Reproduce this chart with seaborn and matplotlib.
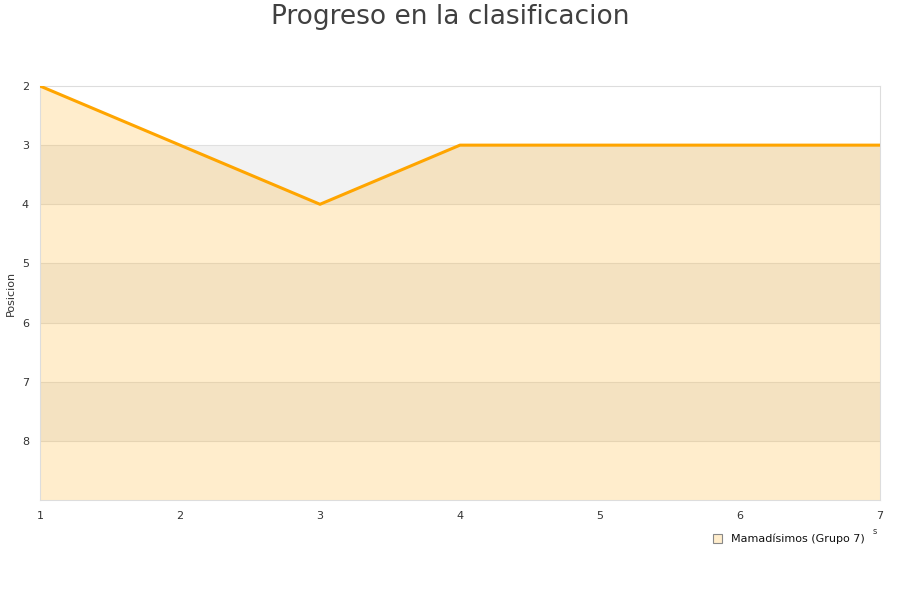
import matplotlib
matplotlib.use("Agg")
import matplotlib.pyplot as plt
import seaborn as sns
import pandas as pd
from matplotlib.patches import Patch

# datos
jornadas = [1, 2, 3, 4, 5, 6, 7]
posicion = [2, 3, 4, 3, 3, 3, 3]
equipo = "Mamadísimos (Grupo 7)"
titulo = "Progreso en la clasificacion"

df = pd.DataFrame({"jornada": jornadas, "posicion": posicion})

sns.set_style("white")
plt.rcParams['font.family'] = ['DejaVu Sans']

fig = plt.figure(figsize=(9, 6), dpi=100)
ax = fig.add_axes([40 / 900, 1 - 500 / 600, 840 / 900, 414 / 600])

ymin, ymax = 2, 9
# bandas alternas del fondo
for i in range(ymin, ymax):
    if (i - ymin) % 2 == 1:
        ax.axhspan(i, i + 1, color="#f2f2f2", lw=0, zorder=0)
    if i > ymin:
        ax.axhline(i, color="#e0e0e0", lw=0.8, zorder=1)

ax.fill_between(df["jornada"], df["posicion"], ymax, color="#ffa500", alpha=0.2, lw=0, zorder=2)
sns.lineplot(data=df, x="jornada", y="posicion", color="#ffa500", lw=2.2, ax=ax, zorder=3)

ax.set_xlim(1, 7)
ax.set_ylim(ymax, ymin)
ax.set_yticks(range(2, 9))
ax.set_xticks(jornadas)
ax.tick_params(labelsize=8, colors="#333333", length=0, pad=8)
ax.set_xlabel("")
ax.set_ylabel("Posicion", fontsize=8, color="#333333", labelpad=4)
for s in ax.spines.values():
    s.set_color("#dddddd")
    s.set_linewidth(0.8)

fig.text(0.5, 1 - 17 / 600, titulo, ha="center", va="center", fontsize=19, color="#404040")
fig.text(875 / 900, 1 - 532 / 600, "s", ha="center", va="center", fontsize=6, color="#333333")

handle = Patch(facecolor="#ffedcc", edgecolor="#888888", lw=0.8)
fig.legend([handle], [equipo], loc="center", bbox_to_anchor=(789 / 900, 1 - 539 / 600),
           frameon=False, fontsize=8, handlelength=0.8, handleheight=0.8, handletextpad=0.8,
           labelcolor="#111111")

fig.savefig("out.png", dpi=100)
